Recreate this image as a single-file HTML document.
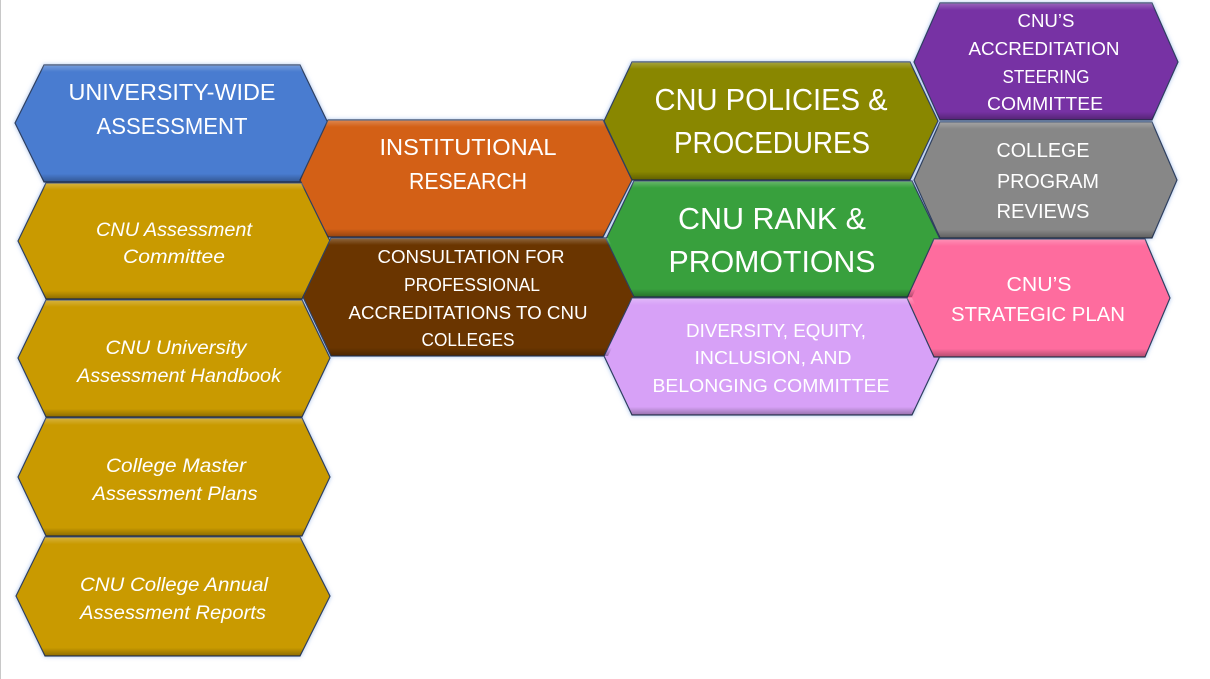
<!DOCTYPE html>
<html><head><meta charset="utf-8"><style>
html,body{margin:0;padding:0;background:#fff;width:1210px;height:679px;overflow:hidden}
svg{display:block}
text{font-family:"Liberation Sans",sans-serif;fill:#fff;text-anchor:middle}
.it{font-style:italic}
</style></head><body>
<svg width="1210" height="679" viewBox="0 0 1210 679">
<defs>
<filter id="g" x="-10%" y="-10%" width="120%" height="120%"><feDropShadow dx="0" dy="0" stdDeviation="2" flood-color="#8fb0e8" flood-opacity="0.8"/></filter>
<linearGradient id="sh" x1="0" y1="0" x2="0" y2="1"><stop offset="0" stop-color="#fff" stop-opacity="0.25"/><stop offset="0.06" stop-color="#fff" stop-opacity="0"/><stop offset="0.93" stop-color="#000" stop-opacity="0"/><stop offset="1" stop-color="#000" stop-opacity="0.3"/></linearGradient>
</defs>
<line x1="0.5" y1="0" x2="0.5" y2="679" stroke="#c8c8c8"/>
<g filter="url(#g)" stroke="#2f3f5f" stroke-width="1.2">
<!-- left column -->
<polygon points="15,123 44,65 300,65 328,123 300,182 44,182" fill="#4a7bd0"/>
<polygon points="18,241 46,183 302,183 330,241 302,299 46,299" fill="#c99a06"/>
<polygon points="18,358 46,300 302,300 330,358 302,417 46,417" fill="#c99a06"/>
<polygon points="18,477 46,418 302,418 330,477 302,536 46,536" fill="#c99a06"/>
<polygon points="16,596 45,537 300,537 330,596 300,656 45,656" fill="#c99a06"/>
<!-- middle -->
<polygon points="300,180 328,120 603,120 632,180 603,237 328,237" fill="#d36119"/>
<polygon points="303,297 331,238 608,238 637,297 608,356 331,356" fill="#6b3506"/>
<!-- right-mid -->
<polygon points="604,121 632,62 910,62 938,121 910,180 632,180" fill="#898705"/>
<polygon points="606,239 634,181 912,181 940,239 912,297 634,297" fill="#38a03c"/>
<polygon points="604,356 632,298 912,298 940,356 912,415 632,415" fill="#d7a1f7"/>
<!-- far right -->
<polygon points="914,62 940,3 1152,3 1178,62 1152,120 940,120" fill="#7730a4"/>
<polygon points="914,180 940,122 1152,122 1177,180 1152,238 940,238" fill="#878787"/>
<polygon points="907,298 934,239 1145,239 1170,298 1145,357 934,357" fill="#fe6c9e"/>
</g>
<g fill="url(#sh)" stroke="none">
<polygon points="15,123 44,65 300,65 328,123 300,182 44,182"/>
<polygon points="18,241 46,183 302,183 330,241 302,299 46,299"/>
<polygon points="18,358 46,300 302,300 330,358 302,417 46,417"/>
<polygon points="18,477 46,418 302,418 330,477 302,536 46,536"/>
<polygon points="16,596 45,537 300,537 330,596 300,656 45,656"/>
<polygon points="300,180 328,120 603,120 632,180 603,237 328,237"/>
<polygon points="303,297 331,238 608,238 637,297 608,356 331,356"/>
<polygon points="604,121 632,62 910,62 938,121 910,180 632,180"/>
<polygon points="606,239 634,181 912,181 940,239 912,297 634,297"/>
<polygon points="604,356 632,298 912,298 940,356 912,415 632,415"/>
<polygon points="914,62 940,3 1152,3 1178,62 1152,120 940,120"/>
<polygon points="914,180 940,122 1152,122 1177,180 1152,238 940,238"/>
<polygon points="907,298 934,239 1145,239 1170,298 1145,357 934,357"/>
</g>
<g font-size="23">
<text x="172" y="100" textLength="207" lengthAdjust="spacingAndGlyphs">UNIVERSITY-WIDE</text>
<text x="172" y="134" textLength="151" lengthAdjust="spacingAndGlyphs">ASSESSMENT</text>
<text x="468" y="155" textLength="177" lengthAdjust="spacingAndGlyphs">INSTITUTIONAL</text>
<text x="468" y="189" textLength="118" lengthAdjust="spacingAndGlyphs">RESEARCH</text>
</g>
<g font-size="19" class="it">
<text x="174" y="236" textLength="156" lengthAdjust="spacingAndGlyphs">CNU Assessment</text>
<text x="174" y="263" textLength="102" lengthAdjust="spacingAndGlyphs">Committee</text>
<text x="176" y="354" textLength="141" lengthAdjust="spacingAndGlyphs">CNU University</text>
<text x="179" y="382" textLength="204" lengthAdjust="spacingAndGlyphs">Assessment Handbook</text>
<text x="176" y="472" textLength="140" lengthAdjust="spacingAndGlyphs">College Master</text>
<text x="175" y="500" textLength="165" lengthAdjust="spacingAndGlyphs">Assessment Plans</text>
<text x="174" y="591" textLength="188" lengthAdjust="spacingAndGlyphs">CNU College Annual</text>
<text x="173" y="619" textLength="186" lengthAdjust="spacingAndGlyphs">Assessment Reports</text>
</g>
<g font-size="18">
<text x="471" y="263" textLength="187" lengthAdjust="spacingAndGlyphs">CONSULTATION FOR</text>
<text x="472" y="291" textLength="136" lengthAdjust="spacingAndGlyphs">PROFESSIONAL</text>
<text x="468" y="319" textLength="239" lengthAdjust="spacingAndGlyphs">ACCREDITATIONS TO CNU</text>
<text x="468" y="346" textLength="93" lengthAdjust="spacingAndGlyphs">COLLEGES</text>
<text x="776" y="337" textLength="180" lengthAdjust="spacingAndGlyphs">DIVERSITY, EQUITY,</text>
<text x="773" y="364" textLength="157" lengthAdjust="spacingAndGlyphs">INCLUSION, AND</text>
<text x="771" y="392" textLength="237" lengthAdjust="spacingAndGlyphs">BELONGING COMMITTEE</text>
<text x="1046" y="27" textLength="57" lengthAdjust="spacingAndGlyphs">CNU’S</text>
<text x="1044" y="55" textLength="151" lengthAdjust="spacingAndGlyphs">ACCREDITATION</text>
<text x="1046" y="83" textLength="87" lengthAdjust="spacingAndGlyphs">STEERING</text>
<text x="1045" y="110" textLength="116" lengthAdjust="spacingAndGlyphs">COMMITTEE</text>
</g>
<g font-size="20">
<text x="1043" y="157" textLength="93" lengthAdjust="spacingAndGlyphs">COLLEGE</text>
<text x="1048" y="188" textLength="102" lengthAdjust="spacingAndGlyphs">PROGRAM</text>
<text x="1043" y="218" textLength="93" lengthAdjust="spacingAndGlyphs">REVIEWS</text>
<text x="1039" y="291" textLength="65" lengthAdjust="spacingAndGlyphs">CNU’S</text>
<text x="1038" y="321" textLength="174" lengthAdjust="spacingAndGlyphs">STRATEGIC PLAN</text>
</g>
<g font-size="31">
<text x="771" y="110" textLength="233" lengthAdjust="spacingAndGlyphs">CNU POLICIES &amp;</text>
<text x="772" y="153" textLength="196" lengthAdjust="spacingAndGlyphs">PROCEDURES</text>
<text x="772" y="229" textLength="188" lengthAdjust="spacingAndGlyphs">CNU RANK &amp;</text>
<text x="772" y="272" textLength="207" lengthAdjust="spacingAndGlyphs">PROMOTIONS</text>
</g>
</svg>
</body></html>
